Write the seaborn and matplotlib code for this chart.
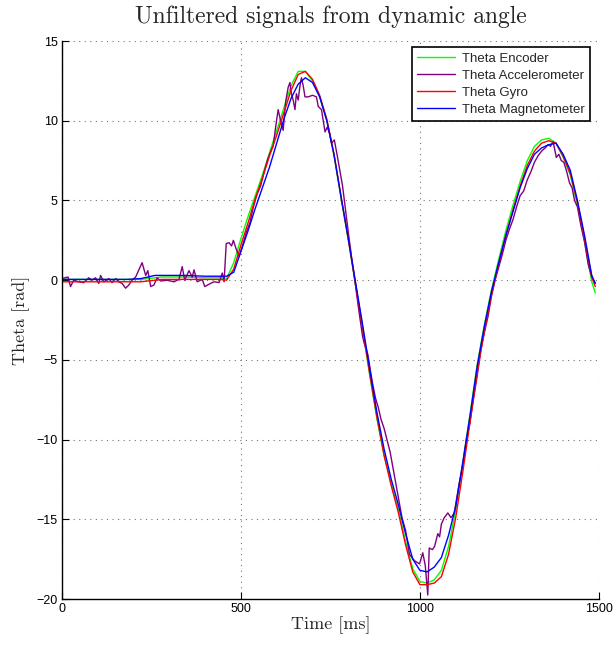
import pandas as pd
import seaborn as sns
import matplotlib.pyplot as plt

# sample times for the smooth sensors [ms]
time_smooth = [0, 60, 120, 180, 220, 240, 260, 280, 340, 400, 440,
               460, 480, 500, 520, 540, 560, 580, 600, 620, 640, 660, 680, 700, 720, 740,
               760, 780, 800, 820, 840, 860, 880, 900, 920, 940, 960, 980, 1000, 1020, 1040,
               1060, 1080, 1100, 1120, 1140, 1160, 1180, 1200, 1220, 1240, 1260, 1280, 1300,
               1320, 1340, 1360, 1380, 1400, 1420, 1440, 1460, 1480, 1490]

theta_encoder = [0.05, 0.05, 0.05, 0.05, 0.05, 0.1, 0.15, 0.2, 0.2, 0.15, 0.15,
                 0.1, 1.1, 2.6, 4.0, 5.3, 6.6, 8.0, 9.4, 10.8, 12.2, 13.1, 13.1, 12.5, 11.5, 10.0,
                 7.8, 5.1, 2.5, -0.3, -3.1, -6.0, -8.7, -11.0, -12.8, -14.4, -16.4, -18.1, -18.9, -19.0, -18.8,
                 -18.2, -16.7, -14.4, -11.4, -8.4, -5.3, -2.8, -0.6, 1.3, 3.1, 4.7, 6.2, 7.5,
                 8.4, 8.8, 8.9, 8.6, 7.7, 6.6, 4.7, 2.4, -0.1, -0.8]

theta_gyro = [-0.1, -0.1, -0.1, -0.1, -0.1, -0.05, 0.0, 0.05, 0.05, 0.05, 0.05,
              0.0, 0.7, 2.2, 3.6, 5.1, 6.4, 7.8, 9.1, 10.5, 11.9, 12.9, 13.1, 12.6, 11.6, 10.1,
              7.9, 5.2, 2.6, -0.2, -3.0, -5.9, -8.6, -11.0, -12.9, -14.6, -16.6, -18.3, -19.1, -19.1, -19.0,
              -18.6, -17.2, -14.9, -12.0, -8.9, -5.8, -3.2, -0.9, 1.0, 2.8, 4.4, 5.9, 7.2,
              8.1, 8.6, 8.75, 8.6, 7.8, 6.7, 4.9, 2.6, 0.2, -0.4]

theta_magnetometer = [0.05, 0.05, 0.05, 0.05, 0.1, 0.2, 0.3, 0.3, 0.3, 0.25, 0.25,
                      0.25, 0.5, 1.8, 3.1, 4.5, 5.8, 7.1, 8.6, 10.1, 11.4, 12.3, 12.7, 12.4, 11.5, 10.0,
                      7.9, 5.2, 2.6, -0.1, -2.8, -5.6, -8.3, -10.6, -12.5, -14.1, -15.9, -17.5, -18.2, -18.3, -18.0,
                      -17.4, -16.0, -14.2, -11.4, -8.5, -5.4, -2.9, -0.7, 1.1, 2.8, 4.3, 5.8, 7.0,
                      7.9, 8.3, 8.5, 8.6, 7.9, 6.9, 5.0, 2.8, 0.3, -0.2]

# accelerometer is noisy, own sample times
time_acc = [0, 17, 24, 33, 47, 61, 75, 84, 94, 103, 108, 117, 131, 140, 150, 159, 168, 178,
            187, 196, 206, 212, 224, 234, 240, 248, 257, 266, 276, 294, 313, 327, 336, 343,
            355, 364, 369, 378, 392, 399, 411, 425, 439, 448, 453, 459, 467, 474, 479, 486,
            495, 505, 515, 525, 535, 545, 555, 565, 575, 585, 590, 597, 604, 611, 618, 625,
            632, 637, 641, 646, 651, 655, 660, 665, 669, 674, 679, 688, 700, 711, 716, 725,
            730, 735, 741, 748, 753, 761, 770, 784, 789, 800, 810, 820, 830, 840, 845, 854,
            863, 868, 876, 884, 891, 900, 908, 917, 925, 933, 941, 950, 960, 971, 985, 999,
            1008, 1015, 1022, 1026, 1035, 1041, 1050, 1055, 1060, 1068, 1078, 1087, 1096,
            1110, 1120, 1130, 1140, 1150, 1160, 1170, 1180, 1190, 1200, 1210, 1220, 1230,
            1240, 1250, 1260, 1270, 1280, 1290, 1300, 1310, 1320, 1330, 1340, 1350, 1358,
            1365, 1372, 1381, 1388, 1395, 1402, 1409, 1418, 1425, 1432, 1440, 1450, 1460,
            1470, 1480, 1490]

theta_accelerometer = [0.1, 0.2, -0.4, 0.0, -0.1, -0.15, 0.15, 0.0, 0.15, -0.2, 0.3, -0.1, 0.1, -0.15,
                       0.1, -0.1, -0.2, -0.5, -0.3, 0.0, 0.2, 0.5, 1.1, 0.3, 0.6, -0.4, -0.3, 0.15,
                       -0.05, 0.0, -0.1, 0.05, 0.85, 0.0, 0.6, 0.2, 0.65, -0.1, 0.05, -0.4, -0.25,
                       -0.1, -0.15, 0.45, -0.1, 2.3, 2.35, 2.15, 2.5, 2.0, 1.5, 2.2, 3.0, 3.6, 4.6,
                       5.4, 5.9, 6.8, 7.6, 8.2, 8.4, 9.6, 10.7, 10.0, 9.4, 11.2, 12.1, 12.4, 11.7,
                       11.3, 10.7, 11.7, 11.3, 12.2, 12.7, 12.2, 11.5, 11.5, 11.6, 11.5, 10.9, 10.7,
                       10.0, 9.3, 9.6, 9.2, 8.6, 8.8, 7.7, 5.9, 5.0, 3.0, 1.3, -0.3, -2.0, -3.55,
                       -4.0, -4.6, -5.85, -6.5, -7.4, -8.0, -8.7, -9.3, -10.0, -10.8, -11.8, -12.8,
                       -13.8, -14.9, -15.7, -17.2, -17.6, -17.8, -17.1, -17.9, -19.75, -16.8, -16.9,
                       -16.7, -15.9, -16.1, -15.3, -14.9, -14.6, -14.9, -14.6, -12.7, -11.6, -10.0,
                       -8.9, -7.4, -6.0, -4.4, -3.3, -2.3, -1.0, 0.0, 0.8, 1.6, 2.5, 3.2, 3.8, 4.6,
                       5.3, 5.6, 6.3, 6.8, 7.4, 7.8, 8.1, 8.3, 8.5, 8.4, 8.7, 7.7, 7.9, 7.5, 7.4,
                       6.9, 6.1, 5.8, 5.0, 4.6, 3.4, 2.4, 1.0, 0.2, -0.2]

sns.set_style("white")
plt.rcParams['font.family'] = ['Liberation Sans', 'DejaVu Sans']

fig = plt.figure(figsize=(6.13, 6.48), dpi=100)
ax = fig.add_axes([0.101, 0.0756, 0.876, 0.861])

series = [
    (time_smooth, theta_encoder, "Theta Encoder", (0, 1, 0)),
    (time_acc, theta_accelerometer, "Theta Accelerometer", (0.5, 0, 0.5)),
    (time_smooth, theta_gyro, "Theta Gyro", (1, 0, 0)),
    (time_smooth, theta_magnetometer, "Theta Magnetometer", (0, 0, 1)),
]
for t, v, name, col in series:
    df = pd.DataFrame({"time": t, "theta": v})
    sns.lineplot(data=df, x="time", y="theta", color=col, label=name,
                 linewidth=1.0, estimator=None, sort=False, ax=ax)

ax.set_xlim(0, 1500)
ax.set_ylim(-20, 15)
ax.set_xticks([0, 500, 1000, 1500])
ax.set_yticks([-20, -15, -10, -5, 0, 5, 10, 15])
ax.grid(True, linestyle=(0, (1, 4)), color="0.45", linewidth=0.8)
for s in ["top", "right"]:
    ax.spines[s].set_visible(False)
for s in ["left", "bottom"]:
    ax.spines[s].set_color("black")
    ax.spines[s].set_linewidth(1.0)
ax.tick_params(direction="in", length=5, width=0.8, labelsize=9, colors="black",
               left=True, bottom=True, pad=3)

ax.set_title("Unfiltered signals from dynamic angle", family="cmr10", fontsize=17, pad=13)
ax.set_xlabel("Time [ms]", family="cmr10", fontsize=13, labelpad=1)
ax.set_ylabel("Theta [rad]", family="cmr10", fontsize=13, labelpad=5)

leg = ax.legend(loc="upper right", bbox_to_anchor=(0.983, 0.989), borderaxespad=0,
                fancybox=False, edgecolor="black", framealpha=1, fontsize=9.5,
                handlelength=2.9, labelspacing=0.36, borderpad=0.4, handletextpad=0.5)
leg.get_frame().set_linewidth(1.2)

plt.savefig("out.png", dpi=100)
plt.close()
